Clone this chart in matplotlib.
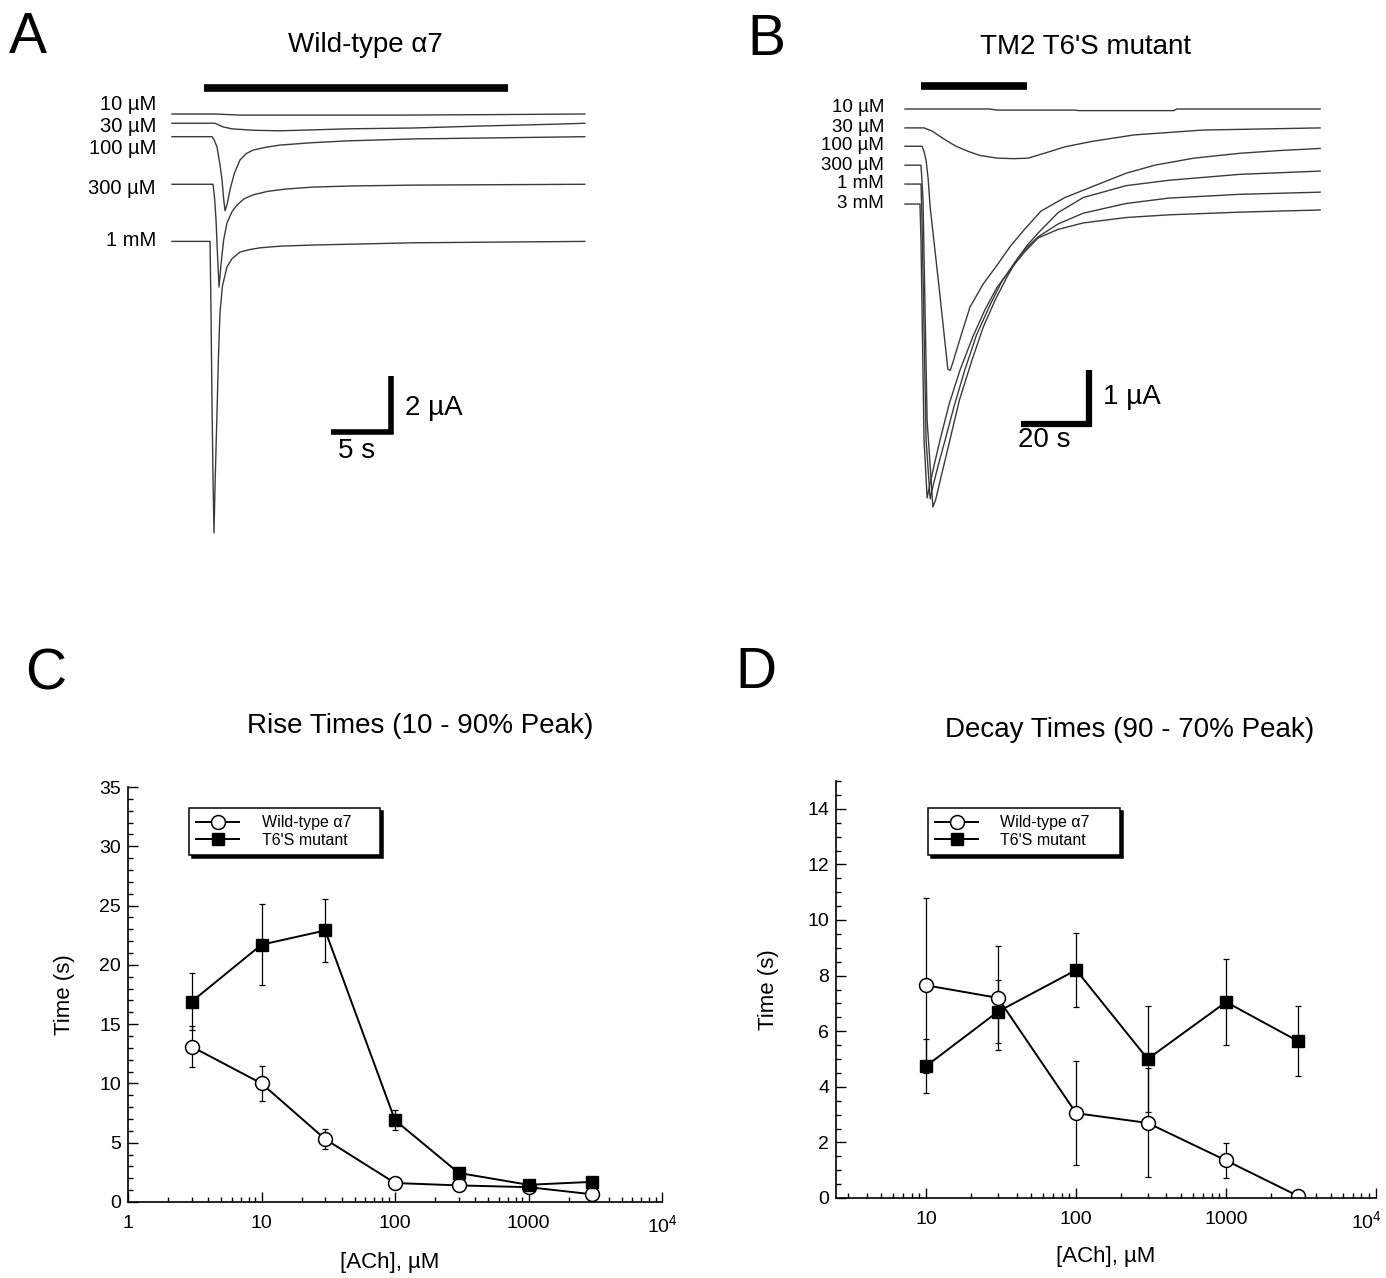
import matplotlib.pyplot as plt
from matplotlib.ticker import MultipleLocator, NullFormatter
from matplotlib.transforms import ScaledTranslation

plt.rcParams['font.family'] = ['Liberation Sans', 'DejaVu Sans']
plt.rcParams['mathtext.default'] = 'regular'

# ---- panel A: wild-type a7 current traces (time s, current uA from baseline)
a_names = ['10 µM', '30 µM', '100 µM', '300 µM', '1 mM']
a10_t = [0, 3.6, 5.7, 19.0, 27.3, 34.4]
a10_i = [0, 0, -0.04, -0.04, -0.02, 0]
a30_t = [0, 3.58, 4.25, 5.0, 6.75, 9.0, 11.5, 14.6, 20.1, 25.7, 32.3, 34.4]
a30_i = [0, 0, -0.13, -0.2, -0.25, -0.27, -0.24, -0.2, -0.17, -0.1, -0.03, 0]
a100_t = [0, 3.33, 3.5, 3.75, 4.0, 4.17, 4.3, 4.42, 4.6, 4.83, 5.2, 5.67, 6.2, 6.75,
          7.8, 9.0, 11.5, 14.6, 20.1, 25.7, 34.4]
a100_i = [0, 0, -0.1, -0.37, -1.0, -1.55, -2.2, -2.65, -2.4, -1.9, -1.3, -0.83, -0.6,
          -0.48, -0.38, -0.3, -0.22, -0.15, -0.08, -0.05, 0]
a300_t = [0, 3.42, 3.55, 3.67, 3.8, 3.92, 4.1, 4.3, 4.58, 5.0, 5.42, 6.0, 6.75, 8.0,
          9.5, 11.75, 15.0, 20.1, 34.4]
a300_i = [0, 0, -0.5, -1.28, -2.6, -3.67, -2.8, -2.0, -1.38, -0.98, -0.74, -0.52, -0.38,
          -0.25, -0.17, -0.1, -0.06, -0.03, 0]
a1000_t = [0, 3.17, 3.25, 3.33, 3.42, 3.5, 3.6, 3.75, 3.88, 4.0, 4.2, 4.58, 5.0, 5.67,
           6.5, 7.33, 9.0, 11.75, 20.1, 34.4]
a1000_i = [0, 0, -2.5, -5.66, -8.5, -10.41, -8.5, -6.13, -4.0, -2.55, -1.6, -0.91, -0.62,
           -0.38, -0.29, -0.23, -0.17, -0.13, -0.05, 0]
a_stim = [2.67, 28.0]

# ---- panel B: TM2 T6'S mutant current traces
b_names = ['10 µM', '30 µM', '100 µM', '300 µM', '1 mM', '3 mM']
b10_t = [0, 25.0, 27.0, 50.0, 51.0, 79.0, 80.0, 122.1]
b10_i = [0, 0, -0.02, -0.02, -0.03, -0.03, 0, 0]
b30_t = [0, 5.6, 8.0, 11.8, 15.0, 18.8, 22.0, 27.1, 32.1, 36.2, 42.0, 47.1, 55.0, 67.4,
         87.6, 122.1]
b30_i = [0, 0, -0.06, -0.22, -0.34, -0.44, -0.51, -0.56, -0.57, -0.56, -0.45, -0.35,
         -0.25, -0.13, -0.04, 0]
b100_t = [0, 5.0, 5.6, 6.2, 6.8, 7.4, 10.0, 12.6, 13.3, 14.1, 16.5, 19.1, 23.0, 27.1,
          31.0, 35.0, 40.0, 47.0, 57.4, 65.0, 73.5, 85.0, 98.5, 110.0, 122.1]
b100_i = [0, 0, -0.1, -0.26, -0.6, -1.13, -2.6, -4.13, -4.15, -4.0, -3.5, -2.98, -2.55,
          -2.2, -1.85, -1.55, -1.2, -0.95, -0.69, -0.5, -0.35, -0.22, -0.13, -0.08, -0.04]
b300_t = [0, 4.7, 5.0, 5.3, 6.5, 8.2, 9.0, 10.5, 13.2, 16.0, 19.7, 23.0, 26.5, 30.0,
          33.2, 36.0, 39.1, 45.0, 52.4, 65.0, 77.6, 98.5, 122.1]
b300_i = [0, 0, -0.3, -0.65, -4.72, -6.33, -6.2, -5.8, -5.09, -4.35, -3.61, -3.0, -2.5,
          -2.07, -1.72, -1.48, -1.26, -0.88, -0.6, -0.38, -0.28, -0.17, -0.11]
b1000_t = [0, 4.7, 5.0, 6.2, 7.4, 8.2, 9.8, 11.8, 14.5, 17.6, 21.0, 25.0, 28.5, 32.4,
           35.5, 39.1, 45.0, 52.4, 65.0, 77.6, 98.5, 122.1]
b1000_i = [0, 0, -0.67, -4.74, -5.83, -5.6, -5.2, -4.74, -4.1, -3.44, -2.8, -2.24, -1.8,
           -1.44, -1.2, -0.98, -0.74, -0.54, -0.36, -0.26, -0.19, -0.15]
b3000_t = [0, 4.4, 4.7, 5.6, 6.5, 7.3, 8.7, 10.3, 13.0, 16.2, 20.0, 23.5, 27.0, 30.9,
           35.0, 39.1, 45.0, 52.4, 65.0, 77.6, 98.5, 122.1]
b3000_i = [0, 0, -0.67, -4.37, -5.44, -5.2, -4.8, -4.37, -3.7, -3.07, -2.45, -1.96, -1.55,
           -1.22, -0.9, -0.63, -0.47, -0.35, -0.25, -0.2, -0.15, -0.11]
b_stim = [4.7, 35.9]

# ---- panel C: rise times
conc_c = [3, 10, 30, 100, 300, 1000, 3000]
wt_rise = [13.1, 10.0, 5.3, 1.6, 1.4, 1.25, 0.65]
wt_rise_err = [1.75, 1.45, 0.85, 0.15, 0.15, 0.15, 0.1]
mut_rise = [16.9, 21.7, 22.9, 6.9, 2.45, 1.45, 1.7]
mut_rise_err = [2.4, 3.4, 2.65, 0.85, 0.3, 0.2, 0.3]

# ---- panel D: decay times
conc_d = [10, 30, 100, 300, 1000, 3000]
wt_decay = [7.65, 7.2, 3.05, 2.7, 1.35, 0.08]
wt_decay_err = [3.15, 1.87, 1.87, 1.96, 0.63, 0.0]
mut_decay = [4.75, 6.7, 8.2, 5.0, 7.05, 5.65]
mut_decay_err = [0.98, 1.13, 1.34, 1.9, 1.53, 1.27]

W, H = 1386, 1278
fig = plt.figure(figsize=(W / 100, H / 100), dpi=100)


def box(x0, y0, x1, y1):
    # pixel box -> figure fraction rect
    return [x0 / W, 1 - y1 / H, (x1 - x0) / W, (y1 - y0) / H]


def ftext(x, y, s, **kw):
    fig.text(x / W, 1 - y / H, s, **kw)


trace_kw = dict(color='#3a3a3a', lw=1.0)

# ---------------- A ----------------
axA = fig.add_axes(box(60, 60, 640, 560))
axA.set_xlim(-9.333, 39.0)
axA.set_ylim(-15.929, 1.9286)
axA.axis('off')
a_traces = [(a10_t, a10_i), (a30_t, a30_i), (a100_t, a100_i), (a300_t, a300_i), (a1000_t, a1000_i)]
a_stack = [0, -0.33, -0.81, -2.51, -4.55]
for (t, i), off in zip(a_traces, a_stack):
    axA.plot(t, [v + off for v in i], **trace_kw)
axA.plot(a_stim, [0.93, 0.93], color='black', lw=5.5, solid_capstyle='butt')
# scale bar 5 s / 2 uA
axA.plot([13.25, 18.25, 18.25], [-11.36, -11.36, -9.36], color='black', lw=4,
         solid_joinstyle='miter', solid_capstyle='butt')

for name, y in zip(a_names, [105, 127, 148, 188, 240]):
    ftext(156, y, name, ha='right', va='center', fontsize=14.5)
ftext(405, 408, '2 µA', ha='left', va='center', fontsize=20)
ftext(357, 451, '5 s', ha='center', va='center', fontsize=20)
ftext(365, 45, 'Wild-type α7', ha='center', va='center', fontsize=20)
ftext(28, 38, 'A', ha='center', va='center', fontsize=41)

# ---------------- B ----------------
axB = fig.add_axes(box(760, 60, 1386, 560))
axB.set_xlim(-42.65, 141.47)
axB.set_ylim(-8.352, 0.9074)
axB.axis('off')
b_traces = [(b10_t, b10_i), (b30_t, b30_i), (b100_t, b100_i), (b300_t, b300_i),
            (b1000_t, b1000_i), (b3000_t, b3000_i)]
b_stack = [0, -0.35, -0.69, -1.04, -1.39, -1.76]
for (t, i), off in zip(b_traces, b_stack):
    axB.plot(t, [v + off for v in i], **trace_kw)
axB.plot(b_stim, [0.43, 0.43], color='black', lw=5.5, solid_capstyle='butt')
# scale bar 20 s / 1 uA
axB.plot([34.1, 54.1, 54.1], [-5.83, -5.83, -4.83], color='black', lw=4.5,
         solid_joinstyle='miter', solid_capstyle='butt')

for name, y in zip(b_names, [108, 127, 146, 165, 184, 204]):
    ftext(884, y, name, ha='right', va='center', fontsize=13.5)
ftext(1103, 397, '1 µA', ha='left', va='center', fontsize=20)
ftext(1044, 440, '20 s', ha='center', va='center', fontsize=20)
ftext(1085, 47, "TM2 T6'S mutant", ha='center', va='center', fontsize=20)
ftext(766, 40, 'B', ha='center', va='center', fontsize=41)


# ---------------- C and D ----------------
def style_axes(ax):
    for s in ['top', 'right']:
        ax.spines[s].set_visible(False)
    for s in ['left', 'bottom']:
        ax.spines[s].set_linewidth(1.2)
    ax.set_xscale('log')
    ax.tick_params(which='both', direction='in', width=1)
    ax.tick_params(which='major', length=7, labelsize=14)
    ax.tick_params(which='minor', length=3.5)
    ax.tick_params(axis='x', pad=9)
    ax.tick_params(axis='y', pad=5)
    ax.xaxis.set_minor_formatter(NullFormatter())


def draw_series(ax, x, wt, wt_err, mut, mut_err, legend_box):
    ax.errorbar(x, wt, yerr=wt_err, fmt='none', ecolor='black', elinewidth=0.9,
                capsize=2.5, capthick=0.9)
    ax.errorbar(x, mut, yerr=mut_err, fmt='none', ecolor='black', elinewidth=0.9,
                capsize=2.5, capthick=0.9)
    h1, = ax.plot(x, wt, color='black', lw=1.4, marker='o', ms=10,
                  mfc='white', mec='black', mew=1.1, label='Wild-type α7')
    h2, = ax.plot(x, mut, color='black', lw=1.4, marker='s', ms=9,
                  mfc='black', mec='black', label="T6'S mutant")
    leg = ax.legend(handles=[h1, h2], loc='upper left', bbox_to_anchor=legend_box,
                    mode='expand', frameon=True, fancybox=False, edgecolor='black',
                    framealpha=1, shadow={'color': 'black', 'alpha': 1}, fontsize=11.5,
                    handlelength=2.7, handletextpad=1.4, borderpad=0.45,
                    labelspacing=0.15, borderaxespad=0)
    leg.get_frame().set_linewidth(1.1)


axC = fig.add_axes(box(128, 787, 662, 1202))
style_axes(axC)
draw_series(axC, conc_c, wt_rise, wt_rise_err, mut_rise, mut_rise_err,
            (0.114, 0.849, 0.358, 0.10))
axC.set_xlim(1, 1e4)
axC.set_ylim(0, 35)
axC.set_xticks([1, 10, 100, 1000, 10000], ['1', '10', '100', '1000', '10$^4$'])
axC.yaxis.set_major_locator(MultipleLocator(5))
axC.yaxis.set_minor_locator(MultipleLocator(1))
axC.set_ylabel('Time (s)', fontsize=16)
axC.set_xlabel('[ACh], µM', fontsize=16)
axC.yaxis.set_label_coords(-0.10, 0.5)
axC.xaxis.set_label_coords(0.49, -0.12)

axD = fig.add_axes(box(836, 781, 1376, 1198))
style_axes(axD)
draw_series(axD, conc_d, wt_decay, wt_decay_err, mut_decay, mut_decay_err,
            (0.170, 0.835, 0.356, 0.10))
axD.set_xlim(2.5, 1e4)
axD.set_ylim(0, 15)
axD.set_xticks([10, 100, 1000, 10000], ['10', '100', '1000', '10$^4$'])
axD.set_yticks([0, 2, 4, 6, 8, 10, 12, 14])
axD.yaxis.set_minor_locator(MultipleLocator(0.5))
axD.set_ylabel('Time (s)', fontsize=16)
axD.set_xlabel('[ACh], µM', fontsize=16)
axD.yaxis.set_label_coords(-0.105, 0.5)
axD.xaxis.set_label_coords(0.5, -0.115)
# keep the last tick label (10^4) inside the figure edge
last = axD.get_xticklabels()[-1]
last.set_transform(last.get_transform() + ScaledTranslation(-7 / 72, 0, fig.dpi_scale_trans))

ftext(420, 726, 'Rise Times (10 - 90% Peak)', ha='center', va='center', fontsize=20)
ftext(1130, 730, 'Decay Times (90 - 70% Peak)', ha='center', va='center', fontsize=20)
ftext(46, 675, 'C', ha='center', va='center', fontsize=41)
ftext(756, 673, 'D', ha='center', va='center', fontsize=41)

fig.savefig('out.png', dpi=100)
